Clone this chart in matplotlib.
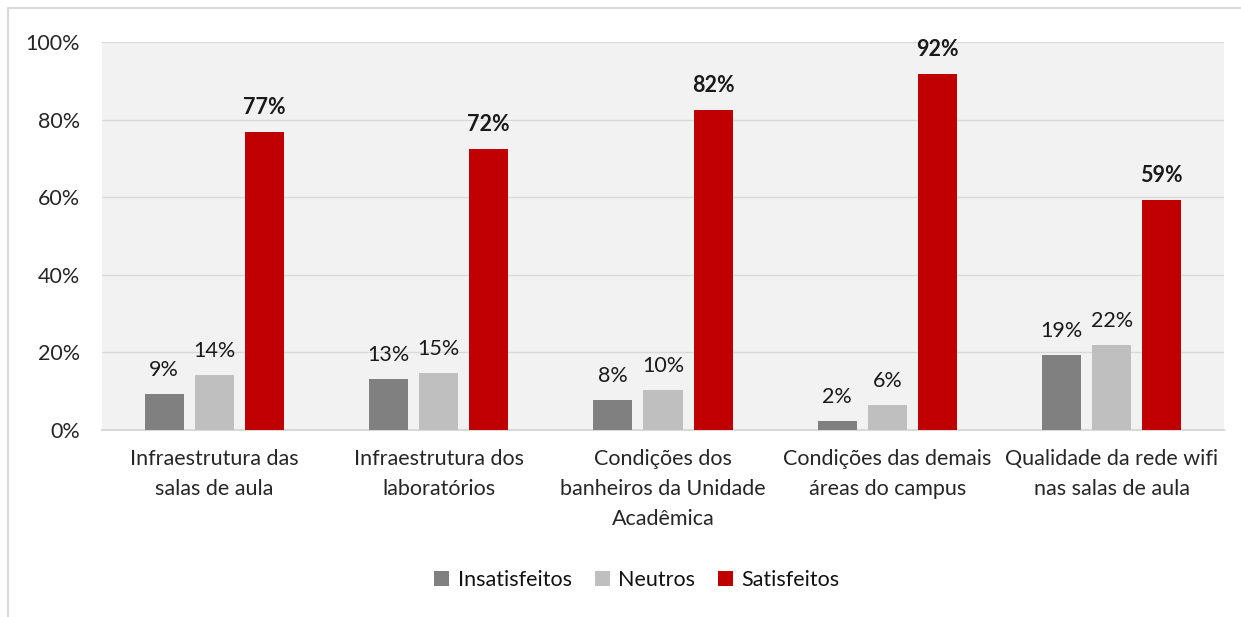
import numpy as np
import matplotlib
matplotlib.use("Agg")
import matplotlib.pyplot as plt
from matplotlib.patches import Rectangle

plt.rcParams['font.family'] = ['Lato', 'DejaVu Sans']

categorias = ["Infraestrutura das\nsalas de aula",
              "Infraestrutura dos\nlaboratórios",
              "Condições dos\nbanheiros da Unidade\nAcadêmica",
              "Condições das demais\náreas do campus",
              "Qualidade da rede wifi\nnas salas de aula"]
insatisfeitos = [9.4, 13.1, 7.7, 2.3, 19.3]
neutros = [14.2, 14.7, 10.3, 6.4, 21.9]
satisfeitos = [76.8, 72.4, 82.5, 91.8, 59.3]
series = [("Insatisfeitos", insatisfeitos, "#808080"),
          ("Neutros", neutros, "#bfbfbf"),
          ("Satisfeitos", satisfeitos, "#c00000")]

fig = plt.figure(figsize=(12.41, 6.17), dpi=100)
# moldura clara do gráfico
fig.patches.append(Rectangle((8/1241, -0.1), 1.2, 1 - 8/617 + 0.1, transform=fig.transFigure,
                             fill=False, edgecolor="#d9d9d9", linewidth=1.5))
ax = fig.add_axes([102/1241, 1 - 430/617, 1122/1241, 388/617])
ax.set_facecolor("#f2f2f2")

x = np.arange(len(categorias))
w = 0.174
step = 0.223
for i, (nome, vals, cor) in enumerate(series):
    pos = x + (i - 1) * step
    ax.bar(pos, vals, w, color=cor, label=nome, zorder=3)
    for p, v in zip(pos, vals):
        ax.text(p, v + 3.6, f"{round(v):.0f}%", ha="center", va="bottom",
                fontsize=15.5, color="#1a1a1a",
                fontweight="bold" if nome == "Satisfeitos" else "normal")

ax.set_xlim(-0.5, len(categorias) - 0.5)
ax.set_ylim(0, 100)
ax.set_yticks(range(0, 101, 20))
ax.set_yticklabels([f"{t}%" for t in range(0, 101, 20)])
ax.yaxis.grid(True, color="#d9d9d9", linewidth=1, zorder=0)
ax.set_axisbelow(True)
ax.set_xticks(x)
ax.set_xticklabels(categorias, linespacing=1.6)
ax.tick_params(axis="both", length=0, labelsize=15.5, colors="#262626")
ax.tick_params(axis="x", pad=14)
ax.tick_params(axis="y", pad=16)
for s in ["top", "right", "left"]:
    ax.spines[s].set_visible(False)
ax.spines["bottom"].set_color("#d9d9d9")
ax.spines["bottom"].set_linewidth(1.5)

leg = fig.legend(loc="center", bbox_to_anchor=(637/1241, 1 - 580/617), ncol=3, frameon=False,
                 fontsize=15.5, handlelength=0.7, handleheight=0.7, handletextpad=0.4,
                 columnspacing=1.05)
for t in leg.get_texts():
    t.set_color("#111111")

fig.savefig("out.png", dpi=100)
